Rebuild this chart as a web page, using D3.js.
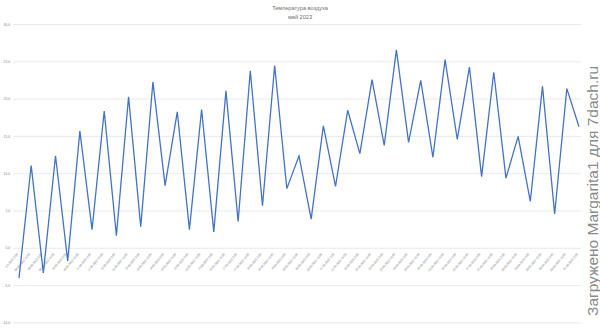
<!DOCTYPE html>
<html>
<head>
<meta charset="utf-8">
<script src="https://cdn.jsdelivr.net/npm/d3@7"></script>
<style>
  body { margin: 0; background: #fff; }
  #chart { width: 600px; height: 332px; }
  text { font-family: "Liberation Sans", Arial, sans-serif; }
</style>
</head>
<body>
<div id="chart"></div>
<script>
// Data
var titleLines = ["Температура воздуха", "май 2023"];
var watermark = "Загружено Margarita1 для 7dach.ru";

var dates = ["8.5.2023 3:00", "08.05.2023 15:00", "09.05.2023 3:00", "09.05.2023 15:00",
    "10.05.2023 3:00", "10.05.2023 15:00", "11.05.2023 3:00", "11.05.2023 15:00",
    "12.05.2023 3:00", "12.05.2023 15:00", "13.05.2023 3:00", "13.05.2023 15:00",
    "14.05.2023 3:00", "14.05.2023 15:00", "15.05.2023 3:00", "15.05.2023 15:00",
    "16.05.2023 3:00", "16.05.2023 15:00", "17.05.2023 3:00", "17.05.2023 15:00",
    "18.05.2023 3:00", "18.05.2023 15:00", "19.05.2023 3:00", "19.05.2023 15:00",
    "20.05.2023 3:00", "20.05.2023 15:00", "21.05.2023 3:00", "21.05.2023 15:00",
    "22.05.2023 3:00", "22.05.2023 15:00", "23.05.2023 3:00", "23.05.2023 15:00",
    "24.05.2023 3:00", "24.05.2023 15:00", "25.05.2023 3:00", "25.05.2023 15:00",
    "26.05.2023 3:00", "26.05.2023 15:00", "27.05.2023 3:00", "27.05.2023 15:00",
    "28.05.2023 3:00", "28.05.2023 15:00", "29.05.2023 3:00", "29.05.2023 15:00",
    "30.05.2023 3:00", "30.05.2023 15:00", "31.05.2023 3:00"];

var temps = [-4.0, 11.1, -3.3, 12.4, -1.7, 15.7, 2.5, 18.4, 1.7, 20.3,
    2.9, 22.3, 8.4, 18.3, 2.5, 18.6, 2.2, 21.1, 3.6, 23.8,
    5.7, 24.5, 8.0, 12.4, 3.9, 16.4, 8.3, 18.5, 12.7, 22.6,
    13.8, 26.6, 14.2, 22.5, 12.2, 25.3, 14.6, 24.3, 9.6, 23.6,
    9.4, 15.0, 6.3, 21.7, 4.6, 21.4, 16.3];

var yTicks = [-10, -5, 0, 5, 10, 15, 20, 25, 30];

// SVG
var width = 600, height = 332;
var svg = d3.select("#chart")
    .append("svg")
    .attr("width", width)
    .attr("height", height);

var x = d3.scalePoint()
    .domain(dates)
    .range([19, 579]);

var y = d3.scaleLinear()
    .domain([-10, 30])
    .range([322.9, 24.5]);

var fmt = function (v) { return d3.format(".1f")(v).replace(".", ",").replace("−", "-"); };

// gridlines
svg.append("g")
    .selectAll("line")
    .data(yTicks)
    .enter().append("line")
    .attr("x1", 13)
    .attr("x2", 581)
    .attr("y1", d => y(d))
    .attr("y2", d => y(d))
    .attr("stroke", "#e3e3e3")
    .attr("stroke-width", 0.8);

// y labels
svg.append("g")
    .selectAll("text")
    .data(yTicks)
    .enter().append("text")
    .attr("x", 10)
    .attr("y", d => y(d))
    .attr("dy", "0.35em")
    .attr("text-anchor", "end")
    .attr("font-size", 3.3)
    .attr("fill", "#808080")
    .text(fmt);

// x labels, rotated under the zero line
svg.append("g")
    .selectAll("text")
    .data(dates)
    .enter().append("text")
    .attr("transform", d => "translate(" + (x(d) - 1) + "," + (y(0) + 6) + ") rotate(-50)")
    .attr("text-anchor", "end")
    .attr("font-size", 2.9)
    .attr("fill", "#777")
    .text(d => d);

// line
var line = d3.line()
    .x((d, i) => x(dates[i]))
    .y(d => y(d));

svg.append("path")
    .datum(temps)
    .attr("fill", "none")
    .attr("stroke", "#4472c4")
    .attr("stroke-width", 1.3)
    .attr("stroke-linejoin", "miter")
    .attr("d", line);

// title
svg.append("g")
    .selectAll("text")
    .data(titleLines)
    .enter().append("text")
    .attr("x", 300)
    .attr("y", (d, i) => 10 + i * 8.5)
    .attr("text-anchor", "middle")
    .attr("font-size", 5.6)
    .attr("fill", "#707070")
    .text(d => d);

// watermark
svg.append("text")
    .attr("transform", "translate(592,191) rotate(-90)")
    .attr("text-anchor", "middle")
    .attr("dominant-baseline", "central")
    .attr("font-size", 15.5)
    .attr("fill", "#8a8a8a")
    .text(watermark);
</script>
</body>
</html>
